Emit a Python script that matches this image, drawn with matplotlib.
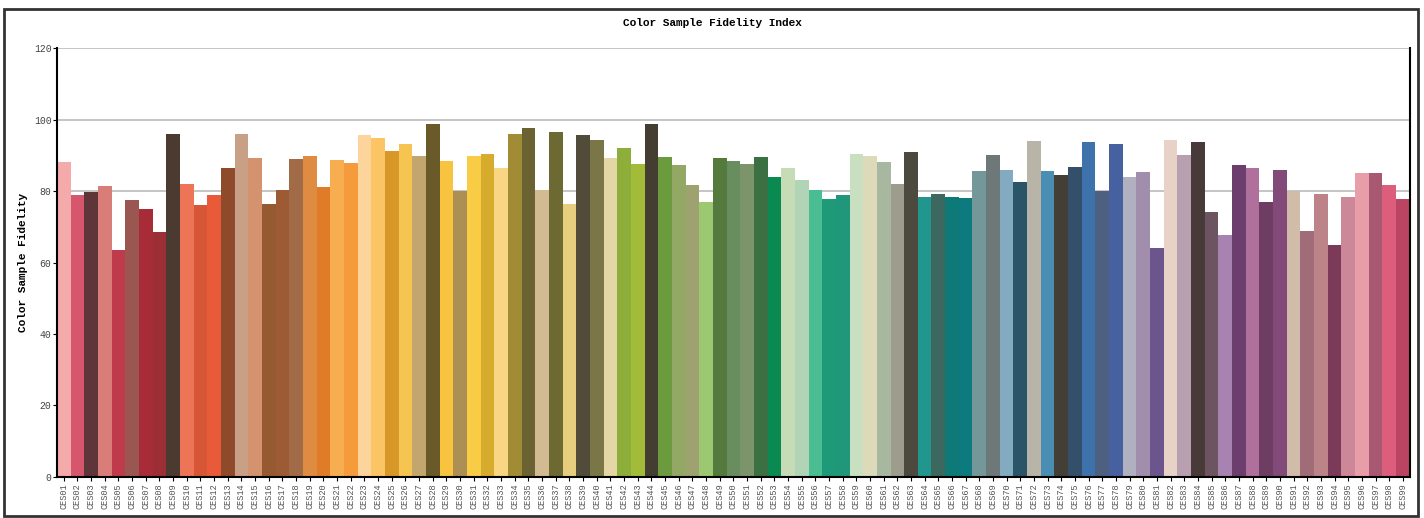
import matplotlib
matplotlib.use("Agg")
import matplotlib.pyplot as plt
from matplotlib.patches import Rectangle

## Donnees
samples = ["CES%02d" % k for k in range(1, 100)]

fidelity = [88.0, 79.0, 79.7, 81.3, 63.6, 77.6, 75.0, 68.4, 96.0, 82.1,
            76.1, 79.0, 86.5, 96.0, 89.2, 76.4, 80.3, 89.0, 89.7, 81.1,
            88.6, 87.8, 95.8, 94.7, 91.2, 93.2, 89.8, 98.7, 88.3, 80.1,
            89.8, 90.4, 86.5, 96.0, 97.5, 80.4, 96.4, 76.4, 95.7, 94.2,
            89.2, 92.1, 87.6, 98.7, 89.4, 87.2, 81.8, 76.8, 89.2, 88.4,
            87.6, 89.4, 84.0, 86.4, 83.0, 80.4, 77.7, 78.8, 90.4, 89.9,
            88.0, 82.1, 90.9, 78.4, 79.3, 78.2, 78.0, 85.5, 90.0, 85.8,
            82.6, 94.1, 85.7, 84.5, 86.6, 93.6, 79.9, 93.2, 84.0, 85.2,
            64.2, 94.4, 90.1, 93.7, 74.0, 67.6, 87.3, 86.5, 76.9, 86.0,
            79.9, 68.9, 79.2, 64.9, 78.3, 85.1, 85.1, 81.6, 77.7]

colors = ["#F4A9AA", "#D6566E", "#5E3538", "#D97D78", "#BF3A4A", "#9A5650", "#A72C38", "#9B2F35", "#4A3A30", "#EE7458",
          "#D65635", "#E95B38", "#8E4A2A", "#C8A085", "#D4926E", "#965A33", "#9C5A35", "#A26B48", "#DF8C42", "#E07B28",
          "#F7AE50", "#F59B3C", "#FDD49C", "#FBC566", "#D89828", "#F6C551", "#C2A66E", "#6A5A2A", "#F8C440", "#AB8F55",
          "#F8CC44", "#D7AB2C", "#F8D684", "#A18B34", "#6A6232", "#D2BB92", "#6C6A32", "#E6CE7E", "#514C3A", "#7A7648",
          "#E5D6A6", "#8EAE3C", "#A2BC3A", "#433D32", "#6C9A3E", "#94A866", "#9EA270", "#9BC870", "#557A3E", "#688E60",
          "#7C946A", "#3A7042", "#0A8A50", "#C6DCB6", "#B2D4B6", "#4ABE92", "#1E9A78", "#20977A", "#C8E0C0", "#DDDABA",
          "#A8B8A0", "#9E9C8C", "#4C4A3E", "#21968E", "#3C6860", "#0E7A78", "#0C7A7E", "#74989A", "#6E7878", "#82AAC0",
          "#2A5468", "#B8B4A8", "#4A8EB4", "#433E36", "#334F6A", "#3E72AA", "#4E6080", "#4760A0", "#B0B0C0", "#A08EAC",
          "#6C548C", "#E8D2C8", "#B8A0B0", "#483A38", "#6C5460", "#A882B0", "#6C3E6E", "#B0709C", "#6E3E62", "#824A78",
          "#D0BCA8", "#A06C78", "#BC8488", "#7A3A58", "#CC8898", "#E89EA8", "#A85870", "#DC5E7C", "#BA4462"]

yticks = [0, 20, 40, 60, 80, 100, 120]

## Figure
mono = "Liberation Mono"
fig = plt.figure(figsize=(14.24, 5.18), dpi=100)
ax = fig.add_axes([0.040, 0.0792, 0.950, 0.828])

# cadre exterieur
fig.patches.append(Rectangle((0.0028, 0.004), 0.993, 0.9786, transform=fig.transFigure,
                             fill=False, edgecolor="#333333", linewidth=2))

x = list(range(len(samples)))
ax.bar(x, fidelity, width=1.0, color=colors, zorder=2)

ax.set_xlim(-0.5, len(samples) - 0.5)
ax.set_ylim(0, 120)
ax.set_yticks(yticks)
ax.yaxis.grid(True, color="#bbbbbb", linewidth=1.2, zorder=0)
ax.set_axisbelow(True)

ax.set_xticks(x)
ax.set_xticklabels(samples, rotation=90, fontsize=6.2, family=mono, color="#555555")
ax.tick_params(axis="x", length=3, width=0.8, pad=1.5)
ax.tick_params(axis="y", length=3, width=0.8, pad=1, labelsize=7, labelcolor="#444444")
for lab in ax.get_yticklabels():
    lab.set_family(mono)

ax.spines["top"].set_visible(False)
for s in ["left", "right", "bottom"]:
    ax.spines[s].set_linewidth(1.5)
    ax.spines[s].set_color("black")

ax.set_ylabel("Color Sample Fidelity", family=mono, fontsize=8, fontweight="bold", labelpad=4)
fig.text(0.5, 0.955, "Color Sample Fidelity Index", family=mono, fontsize=8,
         fontweight="bold", ha="center", va="center")

plt.savefig("out.png", dpi=100)
